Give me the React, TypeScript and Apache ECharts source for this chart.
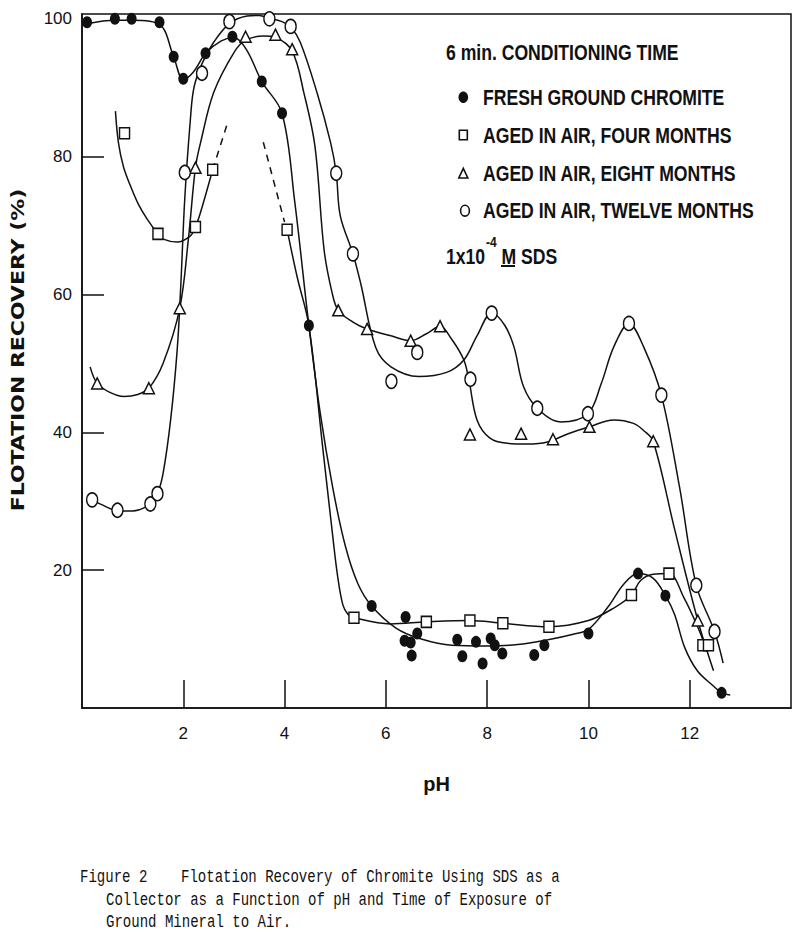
import React, { useEffect, useRef } from "react";
import * as echarts from "echarts";

// ---- axis ticks ----
const xTickValues = [2, 4, 6, 8, 10, 12];
const yTickValues = [20, 40, 60, 80];
const yLabelValues = [20, 40, 60, 80, 100];

// ---- measured points (pH, recovery %) ----
const freshPoints = [
  [0.1, 99.5], [0.65, 100], [0.98, 100], [1.53, 99.5], [1.81, 94.5], [2.0, 91.3],
  [2.44, 95], [2.97, 97.4], [3.55, 90.9], [3.95, 86.3], [4.48, 55.5], [5.72, 14.8],
  [6.39, 13.2], [6.37, 9.75], [6.49, 9.5], [6.51, 7.6], [6.62, 10.8], [7.41, 9.9],
  [7.51, 7.5], [7.78, 9.6], [7.91, 6.45], [8.07, 10.1], [8.15, 9.1], [8.3, 7.9],
  [8.93, 7.7], [9.13, 9.1], [10.0, 10.8], [10.98, 19.5], [11.52, 16.3], [12.63, 2.2],
];
const fourPoints = [
  [0.84, 83.4], [1.5, 68.8], [2.24, 69.8], [2.58, 78.1], [4.05, 69.4], [5.37, 13.1],
  [6.8, 12.5], [7.66, 12.7], [8.31, 12.3], [9.22, 11.8], [10.85, 16.4], [11.59, 19.5],
  [12.26, 9.1], [12.37, 9.1],
];
const eightPoints = [
  [0.3, 47.1], [1.32, 46.4], [1.93, 58], [2.24, 78.4], [3.23, 97.4], [3.82, 97.7],
  [4.15, 95.6], [5.06, 57.7], [5.63, 55.0], [6.49, 53.3], [7.07, 55.4], [7.66, 39.7],
  [8.67, 39.8], [9.3, 39.0], [10.02, 40.8], [11.28, 38.7], [12.16, 12.7],
];
const twelvePoints = [
  [0.2, 30.2], [0.7, 28.7], [1.35, 29.6], [1.49, 31.1], [2.03, 77.7], [2.37, 92.1],
  [2.91, 99.6], [3.7, 100], [4.12, 98.9], [5.02, 77.6], [5.35, 65.9], [6.11, 47.4],
  [6.62, 51.6], [7.67, 47.7], [8.09, 57.3], [8.99, 43.5], [9.99, 42.7], [10.8, 55.8],
  [11.44, 45.4], [12.13, 17.8], [12.49, 11.1],
];

// ---- hand-drawn fitted curves ----
const freshCurve = [
  [0.1, 99.3], [0.65, 99.8], [1.0, 99.8], [1.53, 99.2], [1.81, 94.5], [2.0, 91.2],
  [2.2, 92.3], [2.44, 95], [2.75, 96.8], [3.0, 97.3], [3.25, 95.5], [3.55, 90.9],
  [3.95, 86.3], [4.2, 73.5], [4.48, 55.5], [4.7, 43], [4.95, 32], [5.2, 23.5],
  [5.45, 18], [5.72, 14.8], [6.2, 11.6], [6.7, 10], [7.3, 9.1], [8.0, 9], [8.6, 9.2],
  [9.2, 9.9], [9.7, 10.7], [10.0, 11.4], [10.4, 14.8], [10.7, 18], [10.98, 19.5],
  [11.28, 18.8], [11.52, 16.3], [11.7, 13.6], [11.9, 8.8], [12.15, 5.4], [12.45, 3.3],
  [12.63, 2.2], [12.8, 1.9],
];
const fourCurveLeft = [
  [0.66, 86.6], [0.72, 82], [0.82, 78.5], [0.96, 75.7], [1.12, 73], [1.29, 70.9],
  [1.5, 68.8], [1.62, 68], [1.88, 67.6], [2.14, 68.5], [2.24, 69.8], [2.34, 71.9],
  [2.58, 78.1],
];
const fourDashLeft = [[2.58, 78.1], [2.87, 84.8]];
const fourDashRight = [[3.58, 82.1], [4.0, 70.5]];
const fourCurveRight = [
  [4.05, 69.4], [4.25, 62.5], [4.48, 55.5], [4.75, 38], [4.95, 25], [5.05, 19],
  [5.15, 15], [5.25, 13.6], [5.37, 13.1], [6.09, 12.2], [6.8, 12.5], [7.66, 12.7],
  [8.31, 12.3], [9.22, 11.8], [10.0, 12.7], [10.5, 14.5], [10.85, 16.4], [11.03, 18.5],
  [11.28, 19.4], [11.59, 19.5], [11.88, 16.1], [12.15, 11.9], [12.3, 9.1],
];
const eightCurve = [
  [0.16, 49.5], [0.3, 47.1], [0.55, 45.8], [0.83, 45.2], [1.1, 45.5], [1.32, 46.4],
  [1.6, 50], [1.93, 58], [2.1, 68], [2.24, 78.4], [2.34, 82], [2.6, 89.3], [3.0, 95.1],
  [3.23, 96.9], [3.59, 97.5], [3.82, 97.3], [4.15, 95.3], [4.38, 89.3], [4.6, 81.5],
  [4.78, 66.5], [4.94, 60.2], [5.06, 57.7], [5.35, 56], [5.63, 55], [6.1, 54],
  [6.49, 53.3], [6.8, 54.3], [7.07, 55.4], [7.3, 53.5], [7.54, 50.5], [7.64, 47.6],
  [7.8, 41.8], [8.05, 39.2], [8.4, 38.4], [8.8, 38.3], [9.19, 38.6], [9.6, 39.8],
  [10.02, 40.8], [10.5, 41.8], [10.89, 41.3], [11.1, 40.2], [11.28, 38.7], [11.7, 26],
  [12.16, 12.7], [12.47, 5.4],
];
const twelveCurve = [
  [0.2, 30.2], [0.45, 29.3], [0.7, 28.6], [1.0, 28.6], [1.35, 29.6], [1.49, 31.1],
  [1.6, 34], [1.75, 41.8], [1.88, 52], [1.95, 61.2], [2.03, 74], [2.14, 85.4],
  [2.21, 90], [2.37, 93.5], [2.6, 96.6], [2.91, 99.3], [3.26, 100.4], [3.5, 100.5],
  [3.7, 100.1], [3.95, 99.6], [4.12, 98.8], [4.31, 96.6], [4.64, 89.3], [4.91, 82],
  [5.02, 77.6], [5.1, 71.4], [5.35, 65.9], [5.5, 61.7], [5.8, 52.3], [6.1, 49.5],
  [6.65, 48.1], [7.2, 48.7], [7.54, 50.5], [7.8, 54], [8.09, 57.3], [8.35, 55.5],
  [8.53, 52.4], [8.72, 46.6], [8.99, 43.5], [9.45, 41.5], [9.99, 42.7], [10.25, 47],
  [10.5, 52.4], [10.8, 55.8], [11.09, 52.4], [11.44, 45.4], [11.8, 32], [12.13, 17.8],
  [12.49, 11.1], [12.66, 6.5],
];

// ---- texts ----
const legendTitle = "6 min. CONDITIONING TIME";
const legendNames = [
  "FRESH GROUND CHROMITE",
  "AGED IN AIR, FOUR MONTHS",
  "AGED IN AIR, EIGHT MONTHS",
  "AGED IN AIR, TWELVE MONTHS",
];
const captionLines = [
  "Figure 2    Flotation Recovery of Chromite Using SDS as a",
  "Collector as a Function of pH and Time of Exposure of",
  "Ground Mineral to Air.",
];

const INK = "#111";
const SANS = '"Liberation Sans", Arial, sans-serif';
const MONO = '"Liberation Mono", "DejaVu Sans Mono", monospace';

function curveSeries(data: number[][], dashed = false) {
  return {
    type: "line",
    data,
    smooth: 0.35,
    symbol: "none",
    silent: true,
    z: 2,
    lineStyle: { color: INK, width: 1.5, type: dashed ? [7, 6] : "solid" },
  };
}

function markerSeries(name: string, data: number[][], symbol: string, size: number[], filled: boolean) {
  return {
    name,
    type: "scatter",
    data,
    symbol,
    symbolSize: size,
    silent: true,
    z: 5,
    itemStyle: {
      color: filled ? INK : "#fff",
      borderColor: INK,
      borderWidth: filled ? 0 : 1.5,
      opacity: 1,
    },
  };
}

export default function App() {
  const ref = useRef<HTMLDivElement>(null);

  useEffect(() => {
    if (!ref.current) return;
    const chart = echarts.init(ref.current, null, { renderer: "svg" });
    const legendY = [97, 135, 173, 210];
    const legendTextStyle = {
      fontFamily: SANS,
      fontSize: 22,
      fontWeight: "bold",
      fill: INK,
      verticalAlign: "middle",
      align: "left",
    };

    const graphic: any[] = [
      {
        type: "text",
        x: 18,
        y: 350,
        rotation: Math.PI / 2,
        scaleX: 1.22,
        style: {
          text: "FLOTATION RECOVERY (%)",
          fontFamily: '"DejaVu Sans", sans-serif',
          fontWeight: "bold",
          fontSize: 18,
          fill: INK,
          align: "center",
          verticalAlign: "middle",
        },
      },
      {
        type: "text",
        x: 446,
        y: 52,
        scaleX: 0.8,
        style: { ...legendTextStyle, text: legendTitle },
      },
      ...legendNames.map((t, i) => ({
        type: "text",
        x: 483,
        y: legendY[i],
        scaleX: 0.8,
        style: { ...legendTextStyle, text: t },
      })),
      { type: "ellipse", shape: { cx: 463.3, cy: 97.3, rx: 4.8, ry: 5.8 }, style: { fill: INK } },
      { type: "rect", shape: { x: 459.3, y: 130.3, width: 8, height: 9.4 }, style: { fill: "#fff", stroke: INK, lineWidth: 1.6 } },
      {
        type: "polygon",
        shape: { points: [[458.8, 178], [467.8, 178], [463.3, 168.3]] },
        style: { fill: "#fff", stroke: INK, lineWidth: 1.6 },
      },
      { type: "ellipse", shape: { cx: 465, cy: 210.7, rx: 4.4, ry: 5.4 }, style: { fill: "#fff", stroke: INK, lineWidth: 1.6 } },
      {
        type: "text",
        x: 446,
        y: 251,
        scaleX: 0.8,
        style: {
          text: "{n|1x10}{s|-4}{n|M SDS}",
          fill: INK,
          align: "left",
          verticalAlign: "middle",
          rich: {
            n: { fontFamily: SANS, fontSize: 22, fontWeight: "bold", lineHeight: 32, verticalAlign: "bottom", fill: INK },
            s: { fontFamily: SANS, fontSize: 15, fontWeight: "bold", lineHeight: 16, verticalAlign: "top", fill: INK, padding: [0, 6, 0, 1] },
          },
        },
      },
      { type: "line", shape: { x1: 501, y1: 266, x2: 515, y2: 266 }, style: { stroke: INK, lineWidth: 2 } },
      ...captionLines.map((t, i) => ({
        type: "text",
        x: i === 0 ? 80 : 106,
        y: 877 + i * 22.5,
        scaleX: 0.739,
        style: { text: t, fontFamily: MONO, fontSize: 19, fill: INK, align: "left", verticalAlign: "middle" },
      })),
    ];

    chart.setOption({
      animation: false,
      backgroundColor: "#fff",
      grid: {
        left: 82,
        right: 9,
        top: 14,
        bottom: 229,
        show: true,
        borderColor: INK,
        borderWidth: 1.5,
        backgroundColor: "transparent",
        outerBoundsMode: "none",
      },
      xAxis: {
        type: "value",
        min: 0,
        max: 14,
        name: "pH",
        nameLocation: "middle",
        nameGap: 66,
        nameTextStyle: { fontFamily: SANS, fontSize: 20, color: INK, fontWeight: "bold" },
        axisLine: { show: true, lineStyle: { color: INK, width: 1.6 } },
        axisTick: { show: true, inside: true, length: 28, customValues: xTickValues, lineStyle: { color: INK, width: 1.5 } },
        axisLabel: { customValues: xTickValues, margin: 17, fontFamily: SANS, fontSize: 17, color: INK },
        splitLine: { show: false },
      },
      yAxis: {
        type: "value",
        min: 0,
        max: 100.7,
        axisLine: { show: true, lineStyle: { color: INK, width: 1.6 } },
        axisTick: { show: true, inside: true, length: 22, customValues: yTickValues, lineStyle: { color: INK, width: 1.5 } },
        axisLabel: { customValues: yLabelValues, margin: 10, fontFamily: SANS, fontSize: 17, color: INK },
        splitLine: { show: false },
      },
      graphic,
      series: [
        curveSeries(freshCurve),
        curveSeries(fourCurveLeft),
        curveSeries(fourDashLeft, true),
        curveSeries(fourDashRight, true),
        curveSeries(fourCurveRight),
        curveSeries(eightCurve),
        curveSeries(twelveCurve),
        markerSeries(legendNames[0], freshPoints, "circle", [10, 12], true),
        markerSeries(legendNames[1], fourPoints, "rect", [10, 11], false),
        markerSeries(legendNames[2], eightPoints, "triangle", [11, 11], false),
        markerSeries(legendNames[3], twelvePoints, "circle", [11, 14], false),
      ],
    });

    return () => chart.dispose();
  }, []);

  return (
    <div
      ref={ref}
      style={{ position: "absolute", left: 0, top: 0, width: 800, height: 937, background: "#fff" }}
    />
  );
}
